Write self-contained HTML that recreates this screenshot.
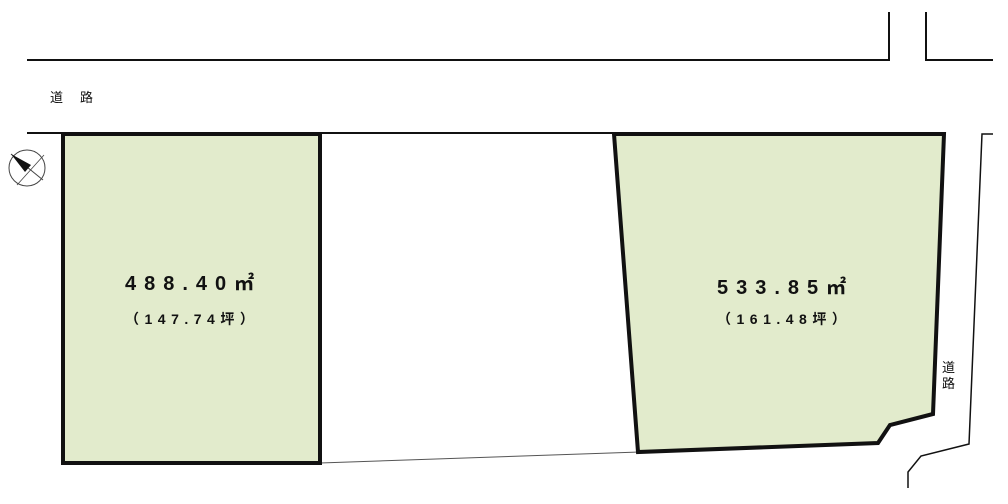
<!DOCTYPE html>
<html><head><meta charset="utf-8"><style>
body{margin:0;background:#fff;}
svg text{font-family:"Liberation Sans","Noto Sans CJK JP",sans-serif;fill:#111;}
</style></head><body>
<svg width="1008" height="499" viewBox="0 0 1008 499" xmlns="http://www.w3.org/2000/svg">
<g fill="none" stroke="#111" stroke-width="2">
<polyline points="27,60 889,60 889,12"/>
<polyline points="926,12 926,60 993,60"/>
<line x1="27" y1="133" x2="63" y2="133"/>
<line x1="320" y1="133" x2="614" y2="133"/>
<polyline points="993,134 982,134 969,444 921,456 908,472 908,488" stroke-width="1.5"/>
</g>
<line x1="320" y1="463" x2="638" y2="452" stroke="#555" stroke-width="1"/>
<rect x="63" y="134" width="257" height="329" fill="#e2ebcc" stroke="#111" stroke-width="4"/>
<polygon points="614,134 944,134 933,414 890,425 878,443 638,452" fill="#e2ebcc" stroke="#111" stroke-width="4" stroke-linejoin="miter"/>
<g>
<circle cx="27" cy="168" r="18" fill="none" stroke="#444" stroke-width="1"/>
<line x1="11" y1="154" x2="43" y2="180" stroke="#444" stroke-width="1"/>
<line x1="17" y1="185" x2="44" y2="155" stroke="#444" stroke-width="0.8"/>
<polygon points="11,154 31,165 25,172" fill="#111"/>
</g>
<text x="50" y="102" font-size="13">道</text>
<text x="80" y="102" font-size="13">路</text>
<text x="942" y="372" font-size="13">道</text>
<text x="942" y="388" font-size="13">路</text>
<text x="125" y="290" font-size="20" font-weight="bold" letter-spacing="8">488.40㎡</text>
<text x="125" y="324" font-size="14" font-weight="bold" letter-spacing="5.5">（147.74坪）</text>
<text x="717" y="294" font-size="20" font-weight="bold" letter-spacing="8">533.85㎡</text>
<text x="717" y="324" font-size="14" font-weight="bold" letter-spacing="5.5">（161.48坪）</text>
</svg>
</body></html>
